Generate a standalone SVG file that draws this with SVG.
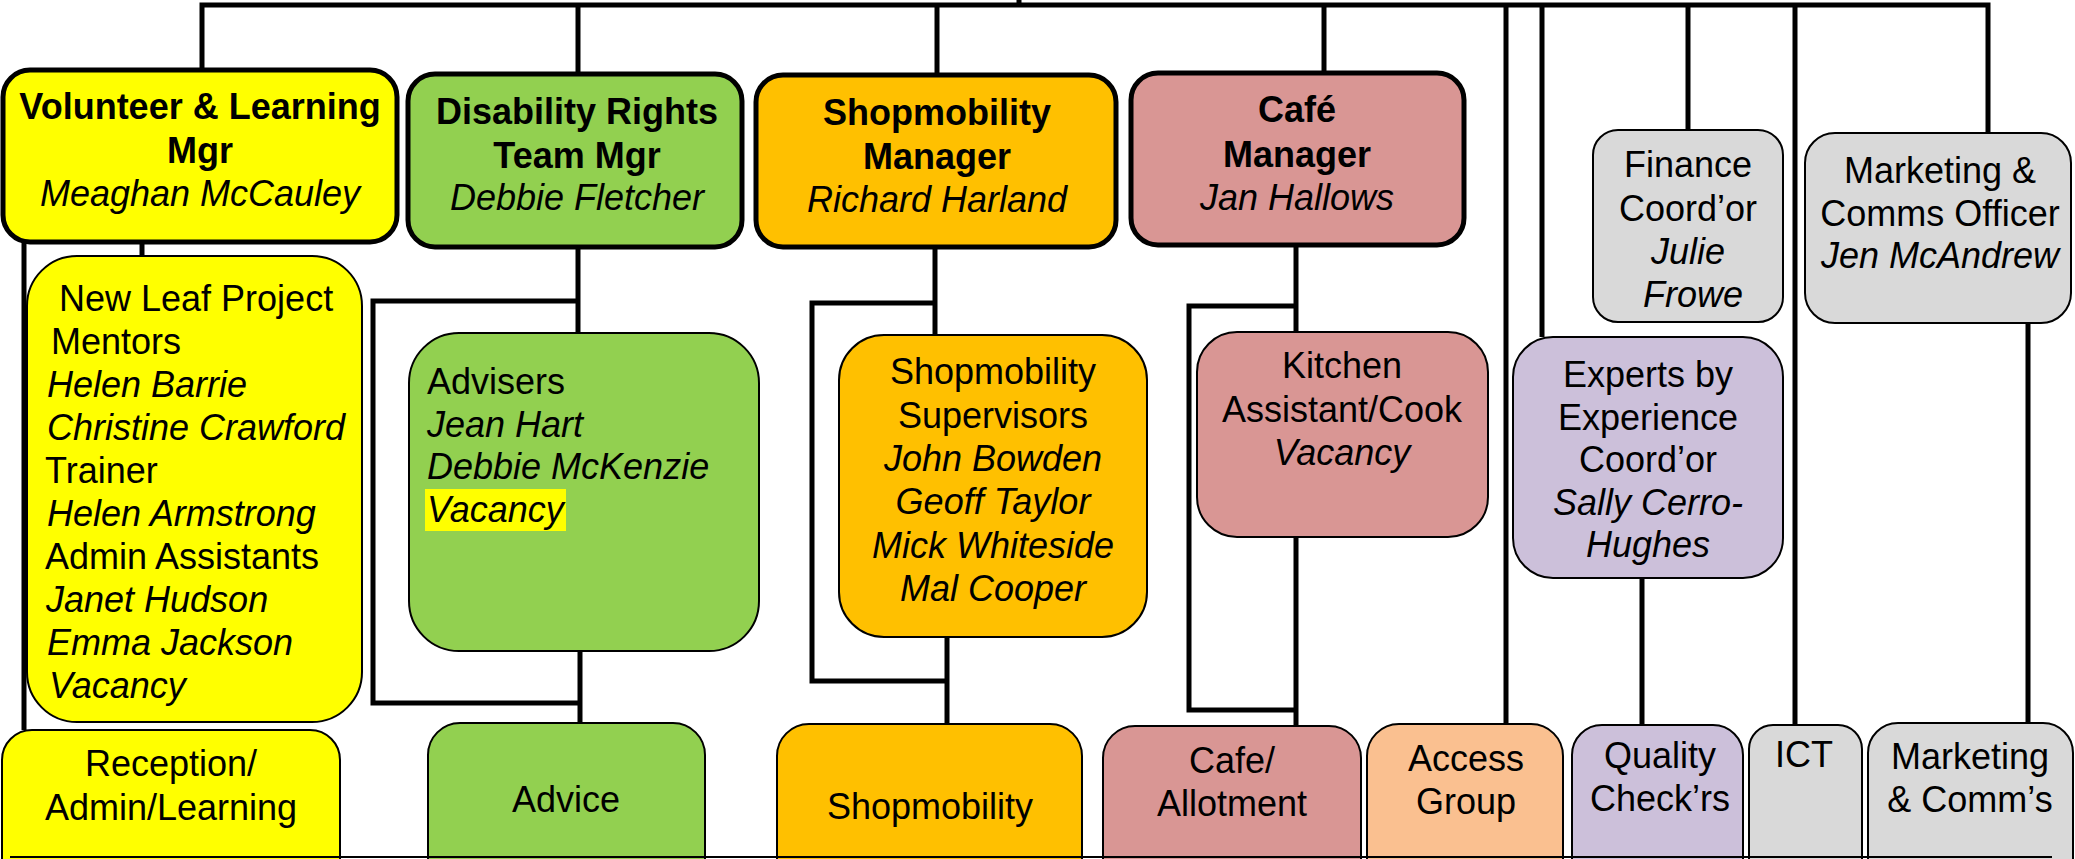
<svg xmlns="http://www.w3.org/2000/svg" width="2075" height="859" viewBox="0 0 2075 859">
<style>
text{font-family:"Liberation Sans",Arial,sans-serif;font-size:36px;fill:#000}
.c{text-anchor:middle}
.b{font-weight:bold}
.i{font-style:italic}
.mgr{stroke:#000;stroke-width:5}
.box{stroke:#000;stroke-width:2}
.yel{fill:#FFFF00}.grn{fill:#92D050}.org{fill:#FFC000}.pnk{fill:#D99694}
.acc{fill:#FAC090}.lav{fill:#CCC0DA}.gry{fill:#D9D9D9}
.ln{fill:none;stroke:#000;stroke-width:5}
</style>
<rect width="2075" height="859" fill="#fff"/>
<g id="connectors">
<path class="ln" d="M202,70 V5 H1988 V133"/>
<path class="ln" d="M1019,0 V7"/>
<path class="ln" d="M578,5 V74"/>
<path class="ln" d="M937,5 V75"/>
<path class="ln" d="M1324,5 V73"/>
<path class="ln" d="M1506,5 V724"/>
<path class="ln" d="M1542,5 V337"/>
<path class="ln" d="M1688,5 V130"/>
<path class="ln" d="M1795,5 V725"/>
<path class="ln" d="M142,242 V256"/>
<path class="ln" d="M24,242 V730"/>
<path class="ln" d="M578,247 V333"/>
<path class="ln" d="M578,301 H373 V703 H580"/>
<path class="ln" d="M580,651 V723"/>
<path class="ln" d="M935,247 V335"/>
<path class="ln" d="M935,303 H812 V681 H948"/>
<path class="ln" d="M947,637 V724"/>
<path class="ln" d="M1296,245 V332"/>
<path class="ln" d="M1296,306 H1189 V710 H1296"/>
<path class="ln" d="M1296,537 V726"/>
<path class="ln" d="M1642,578 V725"/>
<path class="ln" d="M2028,323 V723"/>
</g>
<g id="volunteer-mgr">
<rect class="mgr yel" x="3" y="70" width="394" height="172" rx="27"/>
<text class="c b" x="200" y="119">Volunteer &amp; Learning</text>
<text class="c b" x="200" y="163">Mgr</text>
<text class="c i" x="200" y="206">Meaghan McCauley</text>
</g>
<g id="disability-mgr">
<rect class="mgr grn" x="408" y="74" width="334" height="173" rx="27"/>
<text class="c b" x="577" y="124">Disability Rights</text>
<text class="c b" x="577" y="168">Team Mgr</text>
<text class="c i" x="577" y="210">Debbie Fletcher</text>
</g>
<g id="shopmobility-mgr">
<rect class="mgr org" x="756" y="75" width="360" height="172" rx="27"/>
<text class="c b" x="937" y="125">Shopmobility</text>
<text class="c b" x="937" y="169">Manager</text>
<text class="c i" x="937" y="212">Richard Harland</text>
</g>
<g id="cafe-mgr">
<rect class="mgr pnk" x="1131" y="73" width="333" height="172" rx="27"/>
<text class="c b" x="1297" y="122">Café</text>
<text class="c b" x="1297" y="167">Manager</text>
<text class="c i" x="1297" y="210">Jan Hallows</text>
</g>
<g id="finance">
<rect class="box gry" x="1593" y="130" width="190" height="192" rx="25"/>
<text class="c" x="1688" y="177">Finance</text>
<text class="c" x="1688" y="221">Coord’or</text>
<text class="c i" x="1688" y="264">Julie</text>
<text class="c i" x="1693" y="307">Frowe</text>
</g>
<g id="marketing-officer">
<rect class="box gry" x="1805" y="133" width="266" height="190" rx="30"/>
<text class="c" x="1940" y="183">Marketing &amp;</text>
<text class="c" x="1940" y="226">Comms Officer</text>
<text class="c i" x="1940" y="268">Jen McAndrew</text>
</g>
<g id="new-leaf">
<rect class="box yel" x="27" y="256" width="335" height="466" rx="50"/>
<text x="59" y="311">New Leaf Project</text>
<text x="51" y="354">Mentors</text>
<text class="i" x="47" y="397">Helen Barrie</text>
<text class="i" x="47" y="440">Christine Crawford</text>
<text x="45" y="483">Trainer</text>
<text class="i" x="47" y="526">Helen Armstrong</text>
<text x="45" y="569">Admin Assistants</text>
<text class="i" x="46" y="612">Janet Hudson</text>
<text class="i" x="47" y="655">Emma Jackson</text>
<text class="i" x="49" y="698">Vacancy</text>
</g>
<g id="advisers">
<rect class="box grn" x="409" y="333" width="350" height="318" rx="50"/>
<rect x="425" y="489" width="141" height="42" fill="#FFFF00"/>
<text x="427" y="394">Advisers</text>
<text class="i" x="427" y="437">Jean Hart</text>
<text class="i" x="427" y="479">Debbie McKenzie</text>
<text class="i" x="427" y="522">Vacancy</text>
</g>
<g id="supervisors">
<rect class="box org" x="839" y="335" width="308" height="302" rx="45"/>
<text class="c" x="993" y="384">Shopmobility</text>
<text class="c" x="993" y="428">Supervisors</text>
<text class="c i" x="993" y="471">John Bowden</text>
<text class="c i" x="993" y="514">Geoff Taylor</text>
<text class="c i" x="993" y="558">Mick Whiteside</text>
<text class="c i" x="993" y="601">Mal Cooper</text>
</g>
<g id="kitchen">
<rect class="box pnk" x="1197" y="332" width="291" height="205" rx="40"/>
<text class="c" x="1342" y="378">Kitchen</text>
<text class="c" x="1342" y="422">Assistant/Cook</text>
<text class="c i" x="1342" y="465">Vacancy</text>
</g>
<g id="experts">
<rect class="box lav" x="1513" y="337" width="270" height="241" rx="40"/>
<text class="c" x="1648" y="387">Experts by</text>
<text class="c" x="1648" y="430">Experience</text>
<text class="c" x="1648" y="472">Coord’or</text>
<text class="c i" x="1648" y="515">Sally Cerro-</text>
<text class="c i" x="1648" y="557">Hughes</text>
</g>
<g id="reception">
<rect class="box yel" x="2" y="730" width="338" height="180" rx="30"/>
<text class="c" x="171" y="776">Reception/</text>
<text class="c" x="171" y="820">Admin/Learning</text>
</g>
<g id="advice">
<rect class="box grn" x="428" y="723" width="277" height="180" rx="32"/>
<text class="c" x="566" y="812">Advice</text>
</g>
<g id="shopmobility">
<rect class="box org" x="777" y="724" width="305" height="180" rx="32"/>
<text class="c" x="930" y="819">Shopmobility</text>
</g>
<g id="cafe-allotment">
<rect class="box pnk" x="1103" y="726" width="258" height="180" rx="32"/>
<text class="c" x="1232" y="773">Cafe/</text>
<text class="c" x="1232" y="816">Allotment</text>
</g>
<g id="access-group">
<rect class="box acc" x="1367" y="724" width="196" height="180" rx="32"/>
<text class="c" x="1466" y="771">Access</text>
<text class="c" x="1466" y="814">Group</text>
</g>
<g id="quality">
<rect class="box lav" x="1572" y="725" width="171" height="180" rx="30"/>
<text class="c" x="1660" y="768">Quality</text>
<text class="c" x="1660" y="811">Check’rs</text>
</g>
<g id="ict">
<rect class="box gry" x="1749" y="725" width="113" height="180" rx="24"/>
<text class="c" x="1804" y="767">ICT</text>
</g>
<g id="marketing-comms">
<rect class="box gry" x="1868" y="723" width="205" height="180" rx="30"/>
<text class="c" x="1970" y="769">Marketing</text>
<text class="c" x="1970" y="812">&amp; Comm’s</text>
</g>
<g id="bottom-edge">
<line x1="10" y1="857" x2="2052" y2="857" stroke="#000" stroke-width="2"/>
</g>
</svg>
